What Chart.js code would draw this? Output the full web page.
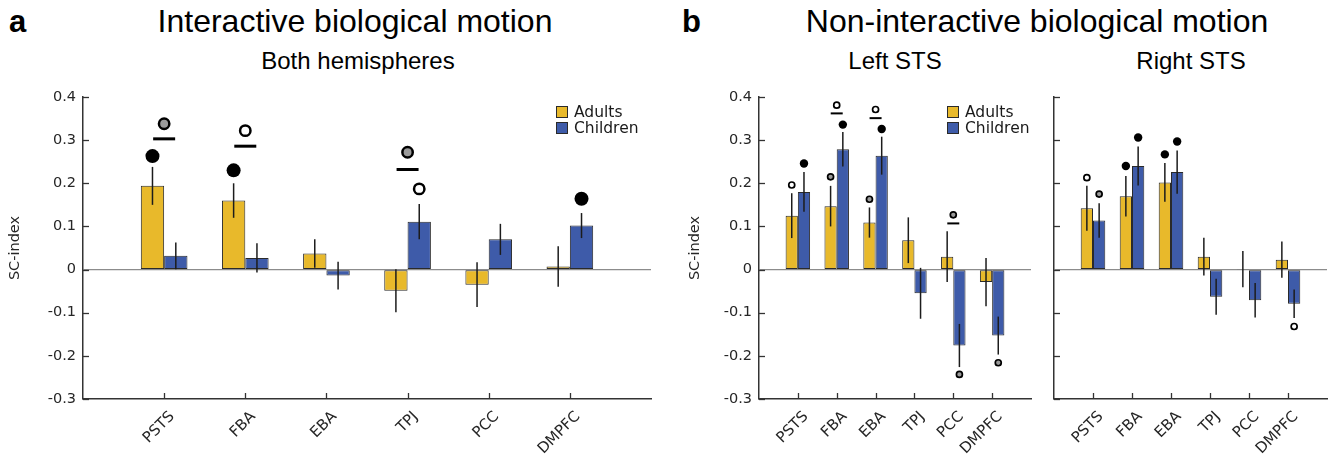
<!DOCTYPE html>
<html>
<head>
<meta charset="utf-8">
<script src="https://cdn.jsdelivr.net/npm/chart.js@4.4.1/dist/chart.umd.min.js"></script>
<style>
html,body{margin:0;padding:0;background:#fff;}
body{width:1336px;height:454px;position:relative;overflow:hidden;font-family:"Liberation Sans",Arial,sans-serif;}
.t{position:absolute;line-height:1;white-space:nowrap;color:#000;}
.c{position:absolute;width:600px;text-align:center;}
canvas{position:absolute;}
</style>
</head>
<body>
<div class="t" style="left:9px;top:6px;font-size:31px;font-weight:bold;">a</div>
<div class="t c" style="left:55px;top:5px;font-size:32px;">Interactive biological motion</div>
<div class="t c" style="left:58px;top:49px;font-size:24px;">Both hemispheres</div>
<div class="t" style="left:682px;top:6px;font-size:31px;font-weight:bold;">b</div>
<div class="t c" style="left:737px;top:5px;font-size:32px;">Non-interactive biological motion</div>
<div class="t c" style="left:595px;top:49px;font-size:24px;">Left STS</div>
<div class="t c" style="left:891px;top:49px;font-size:24px;">Right STS</div>

<canvas id="ca" width="665" height="374" style="left:0px;top:80px;"></canvas>
<canvas id="cbl" width="361" height="374" style="left:680px;top:80px;"></canvas>
<canvas id="cbr" width="296" height="374" style="left:1040px;top:80px;"></canvas>

<script>
// ---------- data ----------
const categories = ['PSTS', 'FBA', 'EBA', 'TPJ', 'PCC', 'DMPFC'];
const yTickValues = [-0.3, -0.2, -0.1, 0, 0.1, 0.2, 0.3, 0.4];
const seriesLabels = ['Adults', 'Children'];
const seriesColors = ['#E8B92B', '#3E5BA9'];

// a: Interactive biological motion, both hemispheres
const bothAdults      = [0.194, 0.160, 0.037, -0.049, -0.035, 0.007];
const bothAdultsErr   = [0.044, 0.040, 0.033, 0.050, 0.052, 0.047];
const bothChildren    = [0.032, 0.027, -0.014, 0.111, 0.070, 0.102];
const bothChildrenErr = [0.031, 0.034, 0.032, 0.041, 0.036, 0.029];
// [category, over which bar, value, marker kind]
const bothMarks = [
  ['PSTS', 'adult', 0.263, 'filled'],
  ['PSTS', 'pair', 0.338, 'gray'],
  ['PSTS', 'pair', 0.303, 'line'],
  ['FBA', 'adult', 0.230, 'filled'],
  ['FBA', 'pair', 0.322, 'open'],
  ['FBA', 'pair', 0.286, 'line'],
  ['TPJ', 'pair', 0.272, 'gray'],
  ['TPJ', 'pair', 0.232, 'line'],
  ['TPJ', 'child', 0.187, 'open'],
  ['DMPFC', 'child', 0.164, 'filled']
];

// b: Non-interactive biological motion, left STS
const leftAdults      = [0.125, 0.147, 0.109, 0.068, 0.030, -0.029];
const leftAdultsErr   = [0.052, 0.047, 0.035, 0.053, 0.059, 0.056];
const leftChildren    = [0.180, 0.279, 0.264, -0.055, -0.176, -0.153];
const leftChildrenErr = [0.046, 0.040, 0.044, 0.059, 0.050, 0.044];
const leftMarks = [
  ['PSTS', 'adult', 0.196, 'open'],
  ['PSTS', 'child', 0.246, 'filled'],
  ['FBA', 'adult', 0.215, 'gray'],
  ['FBA', 'child', 0.336, 'filled'],
  ['FBA', 'pair', 0.381, 'open'],
  ['FBA', 'pair', 0.362, 'line'],
  ['EBA', 'adult', 0.163, 'gray'],
  ['EBA', 'child', 0.326, 'filled'],
  ['EBA', 'pair', 0.371, 'open'],
  ['EBA', 'pair', 0.351, 'line'],
  ['PCC', 'pair', 0.127, 'gray'],
  ['PCC', 'pair', 0.107, 'line'],
  ['PCC', 'child', -0.243, 'gray'],
  ['DMPFC', 'child', -0.216, 'gray']
];

// b: Non-interactive biological motion, right STS
const rightAdults      = [0.142, 0.170, 0.202, 0.030, 0.001, 0.023];
const rightAdultsErr   = [0.052, 0.047, 0.045, 0.044, 0.042, 0.042];
const rightChildren    = [0.114, 0.240, 0.226, -0.063, -0.071, -0.079];
const rightChildrenErr = [0.040, 0.045, 0.050, 0.042, 0.040, 0.033];
const rightMarks = [
  ['PSTS', 'adult', 0.213, 'open'],
  ['PSTS', 'child', 0.175, 'gray'],
  ['FBA', 'adult', 0.240, 'filled'],
  ['FBA', 'child', 0.306, 'filled'],
  ['EBA', 'adult', 0.267, 'filled'],
  ['EBA', 'child', 0.297, 'filled'],
  ['DMPFC', 'child', -0.132, 'open']
];

// ---------- plugins ----------
const errorBars = {
  id: 'errorBars',
  afterDatasetDraw(chart, args) {
    const ds = chart.data.datasets[args.index];
    if (!ds.errors) return;
    const ctx = chart.ctx, y = chart.scales.y;
    ctx.save();
    ctx.strokeStyle = '#1c1c1c';
    ctx.lineWidth = 1.5;
    args.meta.data.forEach((bar, j) => {
      const v = ds.data[j].y, e = ds.errors[j];
      ctx.beginPath();
      ctx.moveTo(bar.x, y.getPixelForValue(v - e));
      ctx.lineTo(bar.x, y.getPixelForValue(v + e));
      ctx.stroke();
    });
    ctx.restore();
  }
};

const inTicks = {
  id: 'inTicks',
  beforeDatasetsDraw(chart) {
    const {ctx, chartArea: a, scales: {x, y}} = chart;
    ctx.save();
    ctx.strokeStyle = '#333';
    ctx.lineWidth = 1.3;
    x.ticks.forEach(t => {
      const px = Math.round(x.getPixelForValue(t.value)) + 0.5;
      ctx.beginPath(); ctx.moveTo(px, a.bottom); ctx.lineTo(px, a.bottom - 6); ctx.stroke();
    });
    y.ticks.forEach(t => {
      const py = Math.round(y.getPixelForValue(t.value)) + 0.5;
      ctx.beginPath(); ctx.moveTo(a.left, py); ctx.lineTo(a.left + 6, py); ctx.stroke();
    });
    ctx.restore();
  }
};

const boxLegend = {
  id: 'boxLegend',
  afterDraw(chart, args, o) {
    if (!o || !o.show) return;
    const ctx = chart.ctx;
    ctx.save();
    chart.data.datasets.filter(d => d.type === 'bar').forEach((d, k) => {
      const y = o.y + k * o.row;
      ctx.fillStyle = d.backgroundColor;
      ctx.fillRect(o.x, y, o.box, o.box);
      ctx.strokeStyle = '#2a2a2a';
      ctx.lineWidth = 1;
      ctx.strokeRect(o.x + 0.5, y + 0.5, o.box - 1, o.box - 1);
      ctx.fillStyle = '#1a1a1a';
      ctx.font = '15.5px "DejaVu Sans"';
      ctx.textBaseline = 'middle';
      ctx.textAlign = 'left';
      ctx.fillText(d.label, o.x + o.box + 6, y + o.box / 2 + 0.5);
    });
    ctx.restore();
  }
};

// ---------- panels ----------
function markStyle(kind, m) {
  if (kind === 'line') return {pointStyle: 'line', pointRadius: m.lineHalf, borderColor: '#000', pointBorderWidth: m.lineW, backgroundColor: '#000'};
  if (kind === 'filled') return {pointStyle: 'circle', pointRadius: m.filledR, backgroundColor: '#000', borderColor: '#000', pointBorderWidth: 0};
  if (kind === 'gray') return {pointStyle: 'circle', pointRadius: m.ringR, backgroundColor: '#9a9a9a', borderColor: '#000', pointBorderWidth: m.ringW};
  return {pointStyle: 'circle', pointRadius: m.ringR, backgroundColor: '#fff', borderColor: '#000', pointBorderWidth: m.ringW};
}

function makePanel(id, p) {
  const half = p.groupWidth / 4;
  const posOffset = {adult: -half, child: half, pair: 0};
  const bars = [[p.adults, p.adultsErr], [p.children, p.childrenErr]].map(([vals, errs], k) => ({
    type: 'bar',
    label: seriesLabels[k],
    data: vals.map((v, i) => ({x: i + 1, y: v})),
    errors: errs,
    backgroundColor: seriesColors[k],
    borderColor: '#2a2a2a',
    borderWidth: 1,
    borderSkipped: false,
    categoryPercentage: p.groupWidth,
    barPercentage: 1,
    order: 2
  }));
  const marks = ['line', 'filled', 'gray', 'open'].map(kind => Object.assign({
    type: 'scatter',
    data: p.marks.filter(m => m[3] === kind).map(m => ({x: categories.indexOf(m[0]) + 1 + posOffset[m[1]], y: m[2]})),
    order: 0,
    clip: false
  }, markStyle(kind, p.m)));

  new Chart(document.getElementById(id), {
    type: 'bar',
    data: {datasets: bars.concat(marks)},
    plugins: [errorBars, inTicks, boxLegend],
    options: {
      responsive: false,
      animation: false,
      events: [],
      layout: {padding: p.pad},
      plugins: {legend: {display: false}, tooltip: {enabled: false}, boxLegend: p.legend},
      scales: {
        x: {
          type: 'linear', min: 0, max: 7, offset: false,
          afterBuildTicks: s => { s.ticks = categories.map((c, i) => ({value: i + 1})); },
          afterFit: s => { s.height = p.xh; },
          grid: {display: true, drawOnChartArea: false, drawTicks: false, color: 'rgba(0,0,0,0)'},
          border: {display: true, color: '#333', width: 1.5},
          ticks: {
            autoSkip: false, minRotation: 45, maxRotation: 45, padding: 9, labelOffset: 8,
            color: '#262626', font: {family: 'DejaVu Sans', size: 15},
            callback: v => categories[Math.round(v) - 1] || ''
          }
        },
        y: {
          type: 'linear', min: -0.3, max: 0.4,
          afterBuildTicks: s => { s.ticks = yTickValues.map(v => ({value: v})); },
          afterFit: s => { s.width = p.yw; },
          grid: {drawTicks: false, lineWidth: 1.3, color: c => (c.tick && Math.abs(c.tick.value) < 1e-9) ? '#8c8c8c' : 'rgba(0,0,0,0)'},
          border: {display: true, color: '#333', width: 1.5},
          ticks: {
            display: p.yLabels, padding: 7, color: '#262626', font: {family: 'DejaVu Sans', size: 14.5},
            callback: v => (v === 0 ? '0' : v.toFixed(1))
          },
          title: {display: p.yLabels, text: 'SC-index', color: '#262626', font: {family: 'DejaVu Sans', size: 14.5}, padding: {top: 7, bottom: 0}}
        }
      }
    }
  });
}

const bigMarks = {filledR: 7, ringR: 5.2, ringW: 2.5, lineHalf: 11, lineW: 3};
const smallMarks = {filledR: 4.2, ringR: 3, ringW: 1.7, lineHalf: 6, lineW: 2};

makePanel('ca', {
  adults: bothAdults, adultsErr: bothAdultsErr, children: bothChildren, childrenErr: bothChildrenErr,
  marks: bothMarks, m: bigMarks, groupWidth: 0.575,
  pad: {top: 17, right: 14, left: 0, bottom: 0}, yw: 83, xh: 55, yLabels: true,
  legend: {show: true, x: 556, y: 26, box: 12, row: 16}
});
makePanel('cbl', {
  adults: leftAdults, adultsErr: leftAdultsErr, children: leftChildren, childrenErr: leftChildrenErr,
  marks: leftMarks, m: smallMarks, groupWidth: 0.63,
  pad: {top: 17, right: 10, left: 0, bottom: 0}, yw: 79, xh: 55, yLabels: true,
  legend: {show: true, x: 267, y: 26, box: 12, row: 16}
});
makePanel('cbr', {
  adults: rightAdults, adultsErr: rightAdultsErr, children: rightChildren, childrenErr: rightChildrenErr,
  marks: rightMarks, m: smallMarks, groupWidth: 0.63,
  pad: {top: 17, right: 9, left: 0, bottom: 0}, yw: 14, xh: 55, yLabels: false,
  legend: {show: false}
});
</script>
</body>
</html>
